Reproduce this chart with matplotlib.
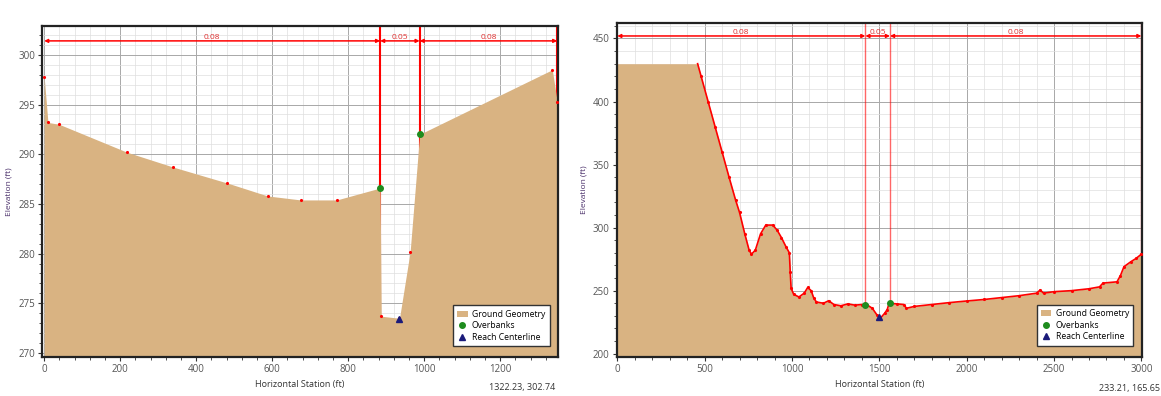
import matplotlib.pyplot as plt
from matplotlib.patches import Patch
from matplotlib.lines import Line2D
from matplotlib.ticker import MultipleLocator

plt.rcParams['font.family'] = ['Open Sans', 'DejaVu Sans']

# Sección izquierda (estación, elevación)
est_izq = [0, 10, 40, 218, 340, 482, 588, 675, 770, 884, 887, 935, 963, 988, 1337, 1350]
elev_izq = [297.8, 293.2, 293.0, 290.2, 288.7, 287.1, 285.8, 285.4, 285.4, 286.6,
            273.7, 273.5, 280.2, 292.0, 298.5, 295.3]
bancos_izq = [884, 988]
elev_bancos_izq = [286.6, 292.0]
centro_izq = (935, 273.4)
n_izq = ['0.08', '0.05', '0.08']

# Sección derecha (estación, elevación)
est_der = [0, 460, 480, 520, 560, 600, 640, 677, 700, 730, 755, 768, 790, 820, 850, 890,
           915, 940, 965, 985, 990, 995, 1010, 1040, 1070, 1090, 1110, 1125, 1140, 1180,
           1210, 1240, 1280, 1320, 1360, 1400, 1430, 1460, 1485, 1505, 1530, 1545, 1556,
           1600, 1640, 1655, 1700, 1800, 1900, 2000, 2100, 2200, 2300, 2400, 2420, 2440,
           2500, 2600, 2700, 2760, 2780, 2860, 2880, 2900, 2940, 2970, 3000]
elev_der = [430, 430, 420, 400, 380, 360, 340, 322, 312, 295, 282, 279, 282, 295, 302, 302,
            298, 292, 285, 280, 265, 252, 247, 245, 248, 252.5, 250, 244, 241, 240,
            242, 239, 238, 239.5, 238.5, 239, 238.7, 236, 231, 228, 232, 235, 240,
            239.5, 239, 236, 237.5, 239, 240.5, 241.8, 243, 244.5, 246, 248, 250.5, 248,
            249.2, 250, 251.5, 253, 256, 257, 262, 269, 273, 275.6, 279]
bancos_der = [1420, 1561]
elev_bancos_der = [238.7, 240.0]
centro_der = (1500, 229)
n_der = ['0.08', '0.05', '0.08']

color_suelo = '#d9b382'
color_verde = '#1e8c1e'
color_azul = '#1a1a7a'


def dibujar(ax, est, elev, bancos, elev_bancos, centro, n_vals, xlim, ylim, y_n,
            mx, mnx, my, mny, puntos_desde, lw_banco, alpha_banco):
    ax.set_xlim(*xlim)
    ax.set_ylim(*ylim)
    ax.xaxis.set_major_locator(MultipleLocator(mx))
    ax.xaxis.set_minor_locator(MultipleLocator(mnx))
    ax.yaxis.set_major_locator(MultipleLocator(my))
    ax.yaxis.set_minor_locator(MultipleLocator(mny))
    ax.grid(which='major', color='#a8a8a8', lw=0.7, zorder=0)
    ax.grid(which='minor', color='#dedede', lw=0.5, zorder=0)
    ax.set_axisbelow(True)

    # Líneas de estaciones de banco y límites
    limites = [est[0]] + bancos + [est[-1]]
    for xb in limites[1:]:
        ax.axvline(xb, color='red', lw=lw_banco, alpha=alpha_banco, zorder=1)

    # Geometría del terreno
    ax.fill_between(est, elev, ylim[0], color=color_suelo, lw=0, zorder=2)

    # Puntos del perfil
    xs = [x for x in est if x >= puntos_desde]
    ys = [y for x, y in zip(est, elev) if x >= puntos_desde]
    ax.plot(xs, ys, ls='none', marker='.', ms=2.5, color='red', zorder=3)

    ax.plot(bancos, elev_bancos, ls='none', marker='o', ms=4, color=color_verde, zorder=4)
    ax.plot(centro[0], centro[1], ls='none', marker='^', ms=5, color=color_azul, zorder=4)

    # Valores de n de Manning
    for i in range(3):
        x0, x1 = limites[i], limites[i + 1]
        ax.annotate('', xy=(x1, y_n), xytext=(x0, y_n),
                    arrowprops=dict(arrowstyle='<|-|>', color='red', lw=1.1,
                                    mutation_scale=5, shrinkA=0, shrinkB=0), zorder=5)
        ax.text((x0 + x1) / 2, y_n, n_vals[i], color='#e03030', fontsize=6,
                ha='center', va='bottom', zorder=5)

    ax.tick_params(which='both', direction='out', labelsize=7, colors='#333333',
                   labelcolor='#555555')
    ax.tick_params(which='major', length=3, pad=2)
    ax.tick_params(which='minor', length=2)
    for s in ax.spines.values():
        s.set_color('#222222')
        s.set_linewidth(1.6)
    ax.set_xlabel('Horizontal Station (ft)', fontsize=6.5, color='#333333', labelpad=4)
    ax.set_ylabel('Elevation (ft)', fontsize=6, color='#4a2f6a', labelpad=4)

    manejadores = [Patch(facecolor=color_suelo, edgecolor='none', label='Ground Geometry'),
                   Line2D([], [], ls='none', marker='o', ms=4, color=color_verde, label='Overbanks'),
                   Line2D([], [], ls='none', marker='^', ms=5, color=color_azul, label='Reach Centerline')]
    leg = ax.legend(handles=manejadores, loc='lower right', fontsize=6.2, frameon=True,
                    fancybox=False, edgecolor='#333333', framealpha=1,
                    handlelength=1.2, handletextpad=0.5, borderpad=0.5, labelspacing=0.3,
                    bbox_to_anchor=(0.992, 0.02))
    leg.get_frame().set_linewidth(1.0)
    leg.set_zorder(10)


fig = plt.figure(figsize=(11.61, 3.96), dpi=100)
ax1 = fig.add_axes([0.0364, 0.0985, 0.4442, 0.8359])
ax2 = fig.add_axes([0.5312, 0.0992, 0.4524, 0.8434])

dibujar(ax1, est_izq, elev_izq, bancos_izq, elev_bancos_izq, centro_izq, n_izq,
        (-5, 1352), (269.6, 302.9), 301.4, 200, 40, 5, 1, 0, 1.5, 1.0)
dibujar(ax2, est_der, elev_der, bancos_der, elev_bancos_der, centro_der, n_der,
        (-3, 3003), (197.6, 462.5), 452, 500, 100, 50, 10, 470, 1.0, 0.6)

# El perfil derecho se dibuja casi continuo
ax2.plot([x for x in est_der if x >= 460], [y for x, y in zip(est_der, elev_der) if x >= 460],
         color='red', lw=1.2, zorder=3)

fig.text(0.478, 0.015, '1322.23, 302.74', fontsize=6.5, color='#333333', ha='right')
fig.text(0.999, 0.012, '233.21, 165.65', fontsize=6.5, color='#333333', ha='right')

plt.savefig('out.png', dpi=100)
